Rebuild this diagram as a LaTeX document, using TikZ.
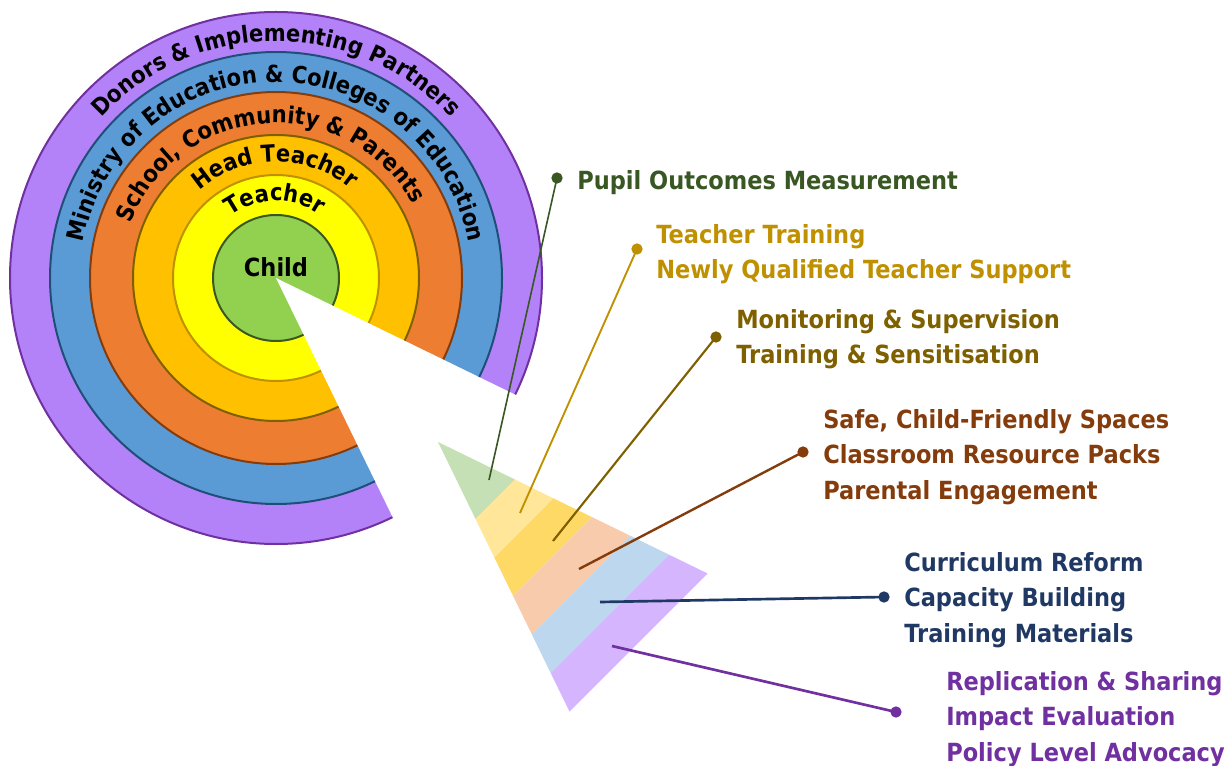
\documentclass[tikz,border=0pt]{standalone}
\usepackage{fontspec}
\newfontfamily\labelfont{DejaVu Sans}[FakeStretch=0.9]
\usetikzlibrary{calc,decorations.text}

% ring colours
\definecolor{donorsFill}{RGB}{179,130,248}
\definecolor{donorsEdge}{RGB}{112,48,160}
\definecolor{ministryFill}{RGB}{91,155,213}
\definecolor{ministryEdge}{RGB}{31,78,121}
\definecolor{schoolFill}{RGB}{237,125,49}
\definecolor{schoolEdge}{RGB}{132,60,12}
\definecolor{headFill}{RGB}{255,192,0}
\definecolor{headEdge}{RGB}{127,96,0}
\definecolor{teacherFill}{RGB}{255,255,0}
\definecolor{teacherEdge}{RGB}{191,144,0}
\definecolor{childFill}{RGB}{146,208,80}
\definecolor{childEdge}{RGB}{56,87,35}
% slice colours
\definecolor{bandGreen}{RGB}{197,224,180}
\definecolor{bandCream}{RGB}{255,230,153}
\definecolor{bandGold}{RGB}{255,217,102}
\definecolor{bandPeach}{RGB}{248,203,173}
\definecolor{bandBlue}{RGB}{189,215,238}
\definecolor{bandLilac}{RGB}{213,181,254}
% label colours
\definecolor{pupilCol}{RGB}{56,87,35}
\definecolor{trainCol}{RGB}{191,144,0}
\definecolor{monitorCol}{RGB}{127,96,0}
\definecolor{spaceCol}{RGB}{132,60,12}
\definecolor{reformCol}{RGB}{32,56,100}
\definecolor{shareCol}{RGB}{112,48,160}

\newcommand\ringfont{\labelfont\bfseries\fontsize{17.6}{20}\selectfont}

\begin{document}
\begin{tikzpicture}[x=0.75pt,y=0.75pt,yscale=-1,xscale=1,
  ring/.style={line width=1.5pt},
  ringtext/.style={decorate,decoration={text along path,text align=center,text={|\ringfont|#1}}},
  lbl/.style={anchor=west,inner sep=0.75pt,align=left,font=\labelfont\bfseries\fontsize{18.75}{26.6}\selectfont},
  tip/.style={circle,inner sep=0pt,minimum size=8.5pt},
  lead/.style={line width=#1}]
\useasboundingbox (0,0) rectangle (1227,766);

%Shape: Circles, outer ring first
\coordinate (ctr) at (276,278);
\foreach \r/\fc/\ec in {266/donorsFill/donorsEdge,226/ministryFill/ministryEdge,186/schoolFill/schoolEdge,143/headFill/headEdge,103/teacherFill/teacherEdge,63/childFill/childEdge}
  \draw[ring,draw=\ec,fill=\fc] (ctr) circle (\r);

%Shape: cut-out slice
\fill[white] (ctr) -- ($(ctr)+(26:330)$) -- ($(ctr)+(64:330)$) -- cycle;

% Curved ring labels
\begin{scope}[shift={(ctr)},yscale=-1]
\path[ringtext={Donors {\&} Implementing Partners}] (179:237) arc[start angle=179,end angle=1,radius=237];
\path[ringtext={Ministry of Education {\&} Colleges of Education}] (179:196) arc[start angle=179,end angle=1,radius=196];
\path[ringtext={School, Community {\&} Parents}] (182.8:155) arc[start angle=182.8,end angle=4.8,radius=155];
\path[ringtext={Head Teacher}] (179.7:116) arc[start angle=179.7,end angle=1.7,radius=116];
\path[ringtext={Teacher}] (180:77) arc[start angle=180,end angle=2,radius=77];
\end{scope}

% Text Node
\node[font=\labelfont\bfseries\fontsize{18.75}{20}\selectfont,inner sep=0.75pt] (child) at (276,267) {Child};

%Shape: exploded slice, split in sevenths
\coordinate (apex) at (438,442);
\coordinate (pu) at ($(apex)+(26:300)$);
\coordinate (pl) at ($(apex)+(64:300)$);
\foreach \a/\b/\c in {0/2/bandGreen,2/3/bandCream,3/4/bandGold,4/5/bandPeach,5/6/bandBlue,6/7/bandLilac}
  \fill[\c] ($(apex)!\a/7!(pu)$) -- ($(apex)!\b/7!(pu)$) -- ($(apex)!\b/7!(pl)$) -- ($(apex)!\a/7!(pl)$) -- cycle;

%Straight Lines with dots
\node[tip,fill=pupilCol] (dotPupil) at (557,178) {};
\node[tip,fill=trainCol] (dotTrain) at (637,249) {};
\node[tip,fill=monitorCol] (dotMonitor) at (716,337) {};
\node[tip,fill=spaceCol] (dotSpace) at (803,452) {};
\node[tip,fill=reformCol] (dotReform) at (884,597) {};
\node[tip,fill=shareCol] (dotShare) at (896,712) {};
\coordinate (endPupil) at (489,480);
\coordinate (endTrain) at (520,513);
\coordinate (endMonitor) at (553,541);
\coordinate (endSpace) at (579,569);
\coordinate (endReform) at (600,602);
\coordinate (endShare) at (612,646);
\draw[lead=1.2pt,pupilCol] (endPupil) -- (dotPupil.center);
\draw[lead=1.4pt,trainCol] (endTrain) -- (dotTrain.center);
\draw[lead=1.6pt,monitorCol] (endMonitor) -- (dotMonitor.center);
\draw[lead=1.8pt,spaceCol] (endSpace) -- (dotSpace.center);
\draw[lead=2pt,reformCol] (endReform) -- (dotReform.center);
\draw[lead=2pt,shareCol] (endShare) -- (dotShare.center);

% Text Node
\node[lbl,text=pupilCol] (txtPupil) at (576,183) {Pupil Outcomes Measurement};
% Text Node
\node[lbl,text=trainCol] (txtTrain) at (655,254) {Teacher Training\\Newly Qualified Teacher Support};
% Text Node
\node[lbl,text=monitorCol] (txtMonitor) at (735,339) {Monitoring \& Supervision\\Training \& Sensitisation};
% Text Node
\node[lbl,text=spaceCol] (txtSpace) at (822,457) {Safe, Child-Friendly Spaces\\Classroom Resource Packs\\Parental Engagement};
% Text Node
\node[lbl,text=reformCol] (txtReform) at (903,600) {Curriculum Reform\\Capacity Building\\Training Materials};
% Text Node
\node[lbl,text=shareCol] (txtShare) at (945,719) {Replication \& Sharing\\Impact Evaluation\\Policy Level Advocacy};

\end{tikzpicture}
\end{document}
